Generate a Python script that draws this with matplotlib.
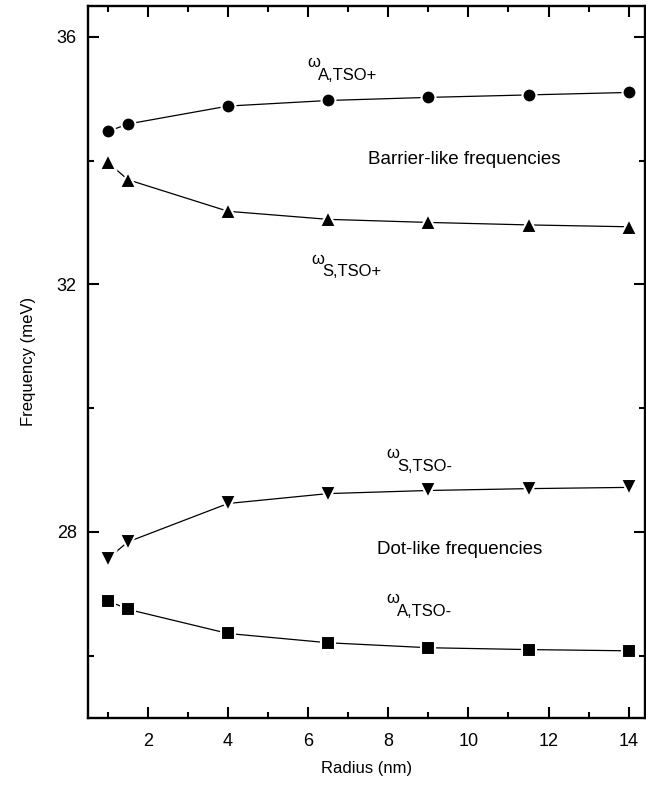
import matplotlib.pyplot as plt
from matplotlib.ticker import MultipleLocator

plt.rcParams['font.family'] = ['Liberation Sans', 'DejaVu Sans']

# radius of the dot (nm)
radius = [1, 1.5, 4, 6.5, 9, 11.5, 14]

# frequencies (meV)
w_a_tso_plus = [34.47, 34.59, 34.88, 34.97, 35.02, 35.06, 35.10]
w_s_tso_plus = [33.97, 33.69, 33.18, 33.05, 33.00, 32.96, 32.93]
w_s_tso_minus = [27.57, 27.84, 28.46, 28.62, 28.67, 28.70, 28.72]
w_a_tso_minus = [26.89, 26.75, 26.36, 26.21, 26.13, 26.10, 26.08]

fig = plt.figure(figsize=(6.46, 7.91), dpi=100)
ax = fig.add_axes([0.136, 0.0927, 0.862, 0.900])

# white marker edge leaves the small gap between line and symbol
style = dict(color='black', lw=0.9, mfc='black', mec='white', mew=1.5)
ax.plot(radius, w_a_tso_plus, marker='o', ms=10, **style)
ax.plot(radius, w_s_tso_plus, marker='^', ms=12, **style)
ax.plot(radius, w_s_tso_minus, marker='v', ms=12, **style)
ax.plot(radius, w_a_tso_minus, marker='s', ms=10, **style)

ax.set_xlim(0.5, 14.4)
ax.set_ylim(25, 36.5)
ax.xaxis.set_major_locator(MultipleLocator(2))
ax.xaxis.set_minor_locator(MultipleLocator(1))
ax.yaxis.set_major_locator(MultipleLocator(4))
ax.yaxis.set_minor_locator(MultipleLocator(2))
ax.tick_params(which='both', direction='in', top=True, right=True, width=1.5,
               labelsize=13)
ax.tick_params(which='major', length=8, pad=8)
ax.tick_params(axis='x', which='major', pad=11)
ax.tick_params(which='minor', length=4.5)
for sp in ax.spines.values():
    sp.set_linewidth(1.7)

ax.set_xlabel('Radius (nm)', fontsize=12, labelpad=8)
ax.set_ylabel('Frequency (meV)', fontsize=12, labelpad=15)

# curve labels: omega followed by a lowered subscript of about the same size
def omega_label(x, y, sub):
    ax.annotate('\u03c9', (x, y), fontsize=12)
    ax.annotate(sub, (x, y), xytext=(7.5, -9), textcoords='offset points',
                fontsize=12)

omega_label(5.99, 35.51, 'A,TSO+')
omega_label(6.09, 32.33, 'S,TSO+')
omega_label(7.96, 29.19, 'S,TSO-')
omega_label(7.96, 26.85, 'A,TSO-')

ax.text(9.9, 34.02, 'Barrier-like frequencies', fontsize=13.5,
        ha='center', va='center')
ax.text(9.79, 27.72, 'Dot-like frequencies', fontsize=13.5,
        ha='center', va='center')

fig.savefig('out.png', dpi=100)
